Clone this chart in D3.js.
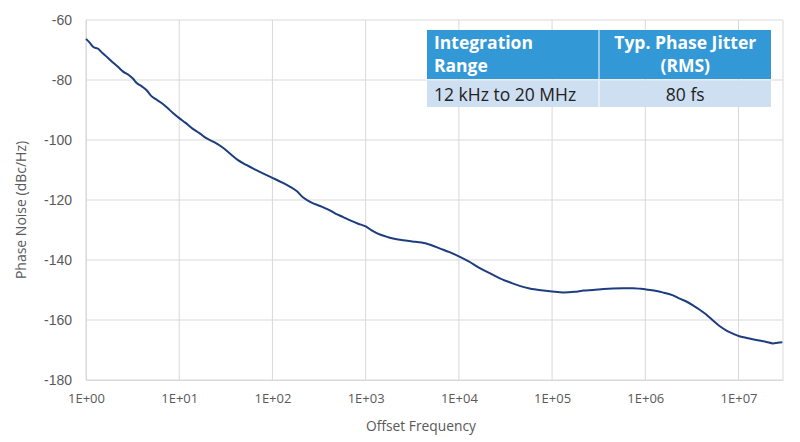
<!DOCTYPE html>
<html>
<head>
<meta charset="utf-8">
<script src="https://cdn.jsdelivr.net/npm/d3@7"></script>
<style>
  body { margin: 0; background: #fff; }
  svg { display: block; font-family: "Open Sans", sans-serif; }
</style>
</head>
<body>
<div id="chart"></div>
<script>
// offset frequency (Hz) and phase noise (dBc/Hz)
var freq = [
  1, 1.1, 1.2, 1.35, 1.5, 1.7, 1.9, 2.2, 2.5, 2.9,
  3.2, 3.5, 4, 4.5, 5, 5.6, 6.3, 7.4, 8.5, 10,
  11.7, 14, 16.6, 19.5, 24, 29.5, 35.5, 42.7, 52.5, 63,
  79, 100, 126, 155, 182, 214, 263, 324, 398, 479,
  575, 692, 832, 1000, 1200, 1445, 1740, 2090, 2510, 3160,
  3980, 5010, 6310, 7940, 1e4, 1.26e4, 1.66e4, 2.14e4, 2.75e4, 3.63e4,
  4.57e4, 5.75e4, 7.59e4, 1e5, 1.32e5, 1.74e5, 2.19e5, 2.75e5, 3.55e5, 4.47e5,
  5.75e5, 7.41e5, 8.91e5, 1.07e6, 1.32e6, 1.58e6, 1.95e6, 2.34e6, 2.82e6, 3.24e6,
  3.8e6, 4.47e6, 5.25e6, 6.31e6, 7.59e6, 8.91e6, 1.02e7, 1.2e7, 1.41e7, 1.66e7,
  2e7, 2.34e7, 2.63e7, 2.95e7
];
var noise = [
  -66.3, -67.6, -69.0, -69.6, -71.0, -72.5, -73.9, -75.6, -77.2, -78.4,
  -79.6, -81.0, -82.2, -83.5, -85.3, -86.4, -87.4, -89.2, -90.9, -92.7,
  -94.3, -96.3, -97.8, -99.4, -100.8, -102.6, -104.7, -106.7, -108.3, -109.6,
  -111.1, -112.6, -114.1, -115.6, -117.0, -119.2, -120.9, -122.0, -123.2, -124.6,
  -125.7, -126.9, -127.9, -128.8, -130.4, -131.6, -132.4, -133.0, -133.4, -133.8,
  -134.2, -135.0, -136.2, -137.4, -138.8, -140.4, -142.6, -144.4, -146.1, -147.6,
  -148.7, -149.5, -150.1, -150.5, -150.8, -150.6, -150.2, -150.0, -149.7, -149.5,
  -149.4, -149.4, -149.6, -149.9, -150.3, -150.9, -151.7, -152.9, -154.0, -155.1,
  -156.5, -158.1, -160.0, -162.1, -163.7, -164.7, -165.4, -165.9, -166.4, -166.8,
  -167.3, -167.8, -167.6, -167.4
];
var xTicks = [1, 1e1, 1e2, 1e3, 1e4, 1e5, 1e6, 1e7];
var xTickLabels = ["1E+00", "1E+01", "1E+02", "1E+03", "1E+04", "1E+05", "1E+06", "1E+07"];
var yTicks = [-60, -80, -100, -120, -140, -160, -180];

var tableHead = [["Integration", "Range"], ["Typ. Phase Jitter", "(RMS)"]];
var tableRow = ["12 kHz to 20 MHz", "80 fs"];

var W = 800, H = 442;
var margin = {top: 20, right: 17, bottom: 62, left: 86};
var width = W - margin.left - margin.right;
var height = H - margin.top - margin.bottom;

var svg = d3.select("#chart").append("svg")
  .attr("width", W)
  .attr("height", H);

var g = svg.append("g")
  .attr("transform", "translate(" + margin.left + "," + margin.top + ")");

var x = d3.scaleLog().domain([1, 3e7]).range([0, width]);
var y = d3.scaleLinear().domain([-180, -60]).range([height, 0]);

// grid
g.append("g").selectAll("line")
  .data(yTicks)
  .enter().append("line")
  .attr("x1", 0).attr("x2", width)
  .attr("y1", function (d) { return y(d); })
  .attr("y2", function (d) { return y(d); })
  .attr("stroke", "#d9d9d9")
  .attr("stroke-width", 1);

g.append("g").selectAll("line")
  .data(xTicks)
  .enter().append("line")
  .attr("x1", function (d) { return x(d); })
  .attr("x2", function (d) { return x(d); })
  .attr("y1", 0).attr("y2", height)
  .attr("stroke", "#d9d9d9")
  .attr("stroke-width", 1);

g.append("line")
  .attr("x1", width).attr("x2", width)
  .attr("y1", 0).attr("y2", height)
  .attr("stroke", "#d9d9d9");

// axes
var yAxis = g.append("g")
  .call(d3.axisLeft(y).tickValues(yTicks)
    .tickFormat(function (d) { return String(d); })
    .tickSize(0).tickPadding(14));
yAxis.select(".domain").attr("stroke", "#d9d9d9");
yAxis.selectAll("text")
  .style("font-family", "'Liberation Sans', Arial, sans-serif")
  .style("font-size", "14px")
  .attr("fill", "#595959");

var xAxis = g.append("g")
  .attr("transform", "translate(0," + height + ")")
  .call(d3.axisBottom(x).tickValues(xTicks)
    .tickFormat(function (d, i) { return xTickLabels[i]; })
    .tickSize(0).tickPadding(14));
xAxis.select(".domain").attr("stroke", "#d9d9d9");
xAxis.selectAll("text")
  .style("font-family", "'Open Sans', sans-serif")
  .style("font-size", "13px")
  .attr("fill", "#595959");

// titles
svg.append("text")
  .attr("x", 421)
  .attr("y", 431)
  .attr("text-anchor", "middle")
  .style("font-size", "13.8px")
  .attr("fill", "#595959")
  .text("Offset Frequency");

svg.append("text")
  .attr("transform", "translate(26,210)rotate(-90)")
  .attr("text-anchor", "middle")
  .style("font-size", "14px")
  .attr("fill", "#595959")
  .text("Phase Noise (dBc/Hz)");

// curve
var pts = freq.map(function (f, i) { return [f, noise[i]]; });
var line = d3.line()
  .x(function (d) { return x(d[0]); })
  .y(function (d) { return y(d[1]); })
  .curve(d3.curveMonotoneX);

g.append("path")
  .datum(pts)
  .attr("d", line)
  .attr("fill", "none")
  .attr("stroke", "#1c3d7e")
  .attr("stroke-width", 2)
  .attr("stroke-linejoin", "round");

// table
var tx = [427, 599.5], tw = [171.5, 171.5];
var tbl = svg.append("g");

tbl.selectAll("rect.head")
  .data(tableHead)
  .enter().append("rect")
  .attr("class", "head")
  .attr("x", function (d, i) { return tx[i]; })
  .attr("y", 30)
  .attr("width", function (d, i) { return tw[i]; })
  .attr("height", 49)
  .attr("fill", "#3399d6");

tbl.selectAll("rect.row")
  .data(tableRow)
  .enter().append("rect")
  .attr("class", "row")
  .attr("x", function (d, i) { return tx[i]; })
  .attr("y", 80.5)
  .attr("width", function (d, i) { return tw[i]; })
  .attr("height", 26.5)
  .attr("fill", "#cddff1");

tableHead.forEach(function (lines, i) {
  var t = tbl.append("text")
    .attr("text-anchor", i === 0 ? "start" : "middle")
    .style("font-size", "17.5px")
    .style("font-weight", "bold")
    .attr("fill", "#fff");
  lines.forEach(function (s, j) {
    t.append("tspan")
      .attr("x", i === 0 ? 434 : tx[i] + tw[i] / 2)
      .attr("y", 49 + j * 23)
      .text(s);
  });
});

tbl.selectAll("text.cell")
  .data(tableRow)
  .enter().append("text")
  .attr("class", "cell")
  .attr("x", function (d, i) { return i === 0 ? 434 : tx[i] + tw[i] / 2; })
  .attr("y", 100.5)
  .attr("text-anchor", function (d, i) { return i === 0 ? "start" : "middle"; })
  .style("font-size", "17.5px")
  .attr("fill", "#222")
  .text(function (d) { return d; });
</script>
</body>
</html>
